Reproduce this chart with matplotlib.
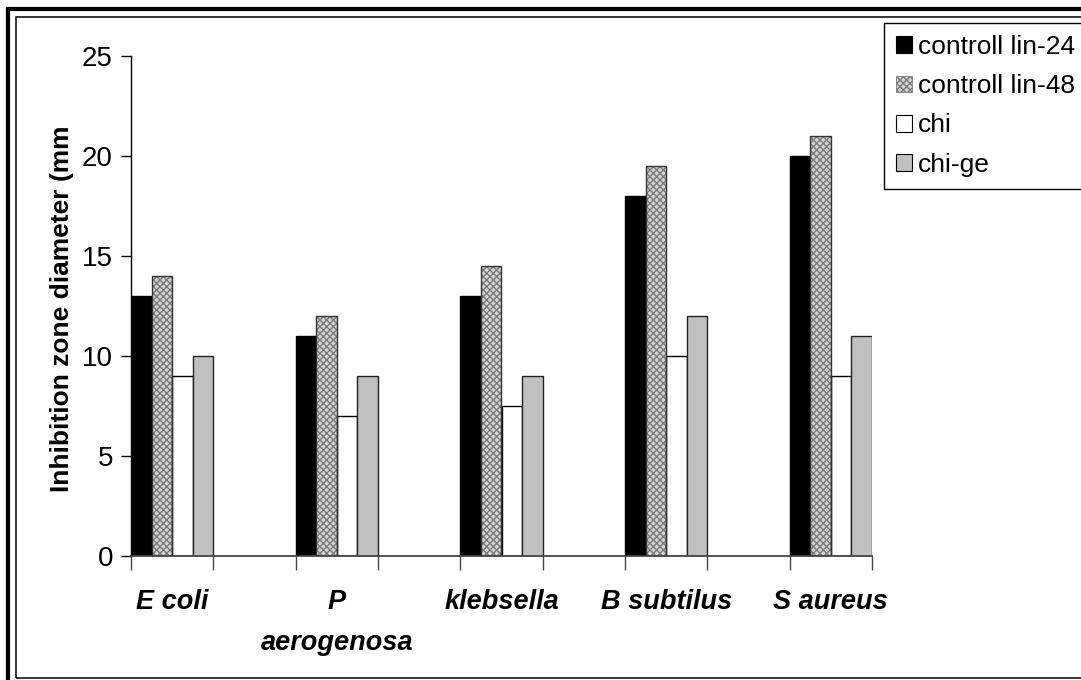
import matplotlib
matplotlib.use('Agg')
import matplotlib.pyplot as plt
import numpy as np
from matplotlib.patches import Patch, Rectangle

plt.rcParams['font.family'] = ['Liberation Sans', 'DejaVu Sans']
plt.rcParams['hatch.linewidth'] = 1.0

# slots on the category axis: data groups separated by empty slots
n_slots = 9
groups = ['E coli', 'P\naerogenosa', 'klebsella', 'B subtilus', 'S aureus']
group_slots = [0, 2, 4, 6, 8]

series_names = ['controll lin-24', 'controll lin-48', 'chi', 'chi-ge']
lin24 = [13, 11, 13, 18, 20]
lin48 = [14, 12, 14.5, 19.5, 21]
chi = [9, 7, 7.5, 10, 9]
chi_ge = [10, 9, 9, 12, 11]
series_values = [lin24, lin48, chi, chi_ge]

yticks = [0, 5, 10, 15, 20, 25]

fig = plt.figure(figsize=(10.81, 6.80), dpi=100)
ax = fig.add_axes([131 / 1081, 1 - 556 / 680, 741 / 1081, 500 / 680])

bar_w = 0.25
slots = np.array(group_slots, dtype=float)
styles = [
    dict(color='black', edgecolor='black', hatch=None),
    dict(color='#d4d4d4', edgecolor='#7a7a7a', hatch='xxxxx'),
    dict(color='white', edgecolor='black', hatch=None),
    dict(color='#c0c0c0', edgecolor='#222222', hatch=None),
]
handles = []
for j, (vals, st) in enumerate(zip(series_values, styles)):
    x = slots + j * bar_w
    if st['hatch']:
        ax.bar(x, vals, width=bar_w, align='edge', color=st['color'],
               edgecolor=st['edgecolor'], hatch=st['hatch'], linewidth=0, zorder=2)
        ax.bar(x, vals, width=bar_w, align='edge', color='none',
               edgecolor='#333333', linewidth=1.0, zorder=3)
        handles.append(Patch(facecolor=st['color'], edgecolor=st['edgecolor'],
                             hatch=st['hatch'], linewidth=0.6))
    else:
        ax.bar(x, vals, width=bar_w, align='edge', color=st['color'],
               edgecolor=st['edgecolor'], linewidth=1.0, zorder=2)
        handles.append(Patch(facecolor=st['color'], edgecolor='black', linewidth=0.8))

ax.set_xlim(0, n_slots)
ax.set_ylim(0, 25)
ax.set_yticks(yticks)
ax.tick_params(axis='y', labelsize=20, length=7, width=1, direction='out', pad=6)

ax.set_xticks(np.arange(n_slots + 1))
ax.set_xticklabels([])
ax.tick_params(axis='x', which='major', length=10, width=1, direction='out', color='#444444')
ax.set_xticks(slots + 0.5, minor=True)
ax.set_xticklabels(groups, minor=True, fontsize=19.5, fontweight='bold', style='italic',
                   va='top', linespacing=1.75)
ax.tick_params(axis='x', which='minor', length=0, pad=24)

for s in ['top', 'right']:
    ax.spines[s].set_visible(False)
ax.spines['left'].set_linewidth(1)
ax.spines['bottom'].set_linewidth(1.3)
ax.spines['bottom'].set_color('#444444')

fig.text(62 / 1081, 1 - 309 / 680, 'Inhibition zone diameter (mm', rotation=90,
         fontsize=19, fontweight='bold', ha='center', va='center')

fig.legend(handles, series_names, loc='upper left',
           bbox_to_anchor=(884 / 1081, 1 - 23 / 680), fontsize=19,
           frameon=True, fancybox=False, framealpha=1, edgecolor='black',
           handlelength=0.6, handleheight=0.6, handletextpad=0.25,
           labelspacing=0.58, borderpad=0.45, borderaxespad=0)
fig.legends[0].get_frame().set_linewidth(1)

# double border around the chart area
fig.patches.append(Rectangle((8 / 1081, -0.1), 1.2, 1 - 9 / 680 + 0.1,
                             transform=fig.transFigure, fill=False,
                             edgecolor='black', linewidth=3, clip_on=False))
fig.patches.append(Rectangle((15.5 / 1081, 1 - 677.5 / 680), 1.2, (677.5 - 16.5) / 680,
                             transform=fig.transFigure, fill=False,
                             edgecolor='black', linewidth=1.1, clip_on=False))

fig.savefig('out.png', dpi=100)
